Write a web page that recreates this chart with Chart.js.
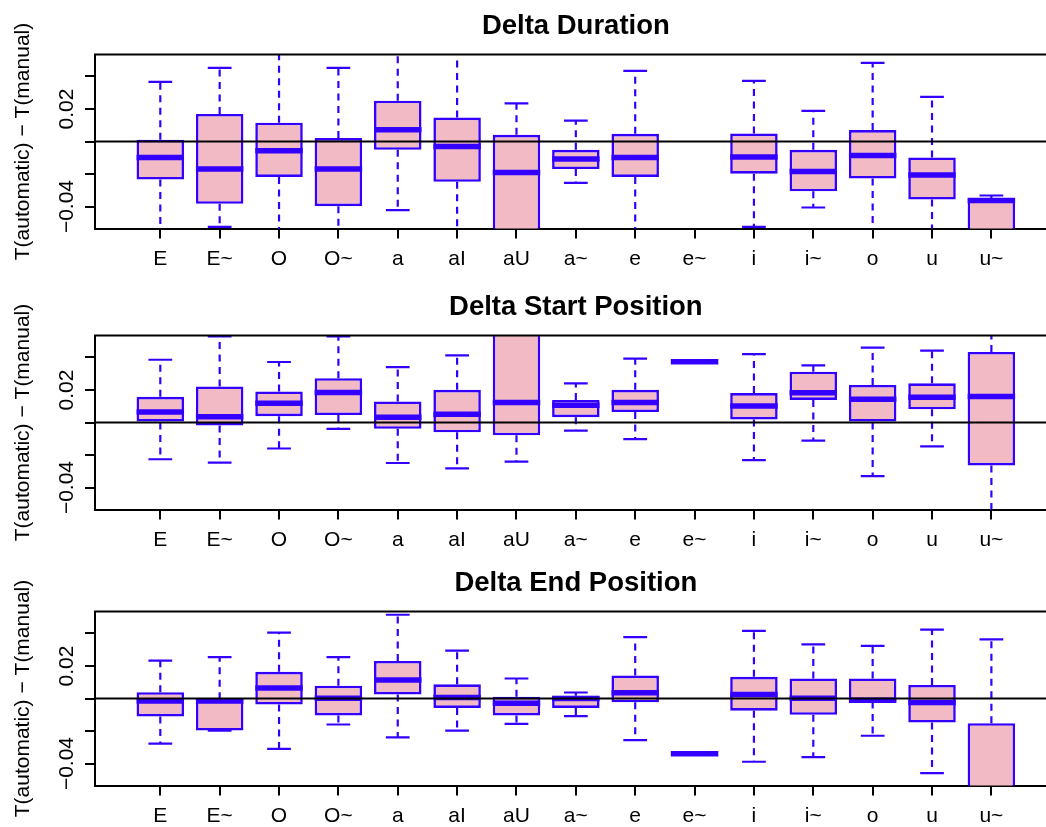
<!DOCTYPE html>
<html lang="en">
<head>
    <meta charset="UTF-8">
    <title>Delta boxplots</title>
    <style>
        body {
            margin: 0;
            background-color: #fff;
            overflow: hidden;
        }
        .panel {
            position: absolute;
            left: 0;
        }
    </style>
</head>
<body>
    <canvas id="durChart" class="panel" width="1046" height="276" style="top: 0px;"></canvas>
    <canvas id="startChart" class="panel" width="1046" height="276" style="top: 281px;"></canvas>
    <canvas id="endChart" class="panel" width="1046" height="276" style="top: 557px;"></canvas>

    <script src="https://cdn.jsdelivr.net/npm/chart.js"></script>
    <script>
        // Categories (vowels) along the x axis
        const categories = ['E', 'E~', 'O', 'O~', 'a', 'aI', 'aU', 'a~', 'e', 'e~', 'i', 'i~', 'o', 'u', 'u~'];

        // Y tick marks, and the ones that get a label
        const yTicks = [-0.04, -0.02, 0, 0.02, 0.04];
        const yLabelTicks = [0.02, -0.04];

        // Delta Duration (whisker low, Q1, median, Q3, whisker high)
        const durLow  = [-0.058, -0.0525, -0.058, -0.058, -0.0422, -0.058, -0.065, -0.0254, -0.058, null, -0.0525, -0.0406, -0.058, -0.058, -0.065];
        const durQ1   = [-0.0234, -0.0383, -0.0218, -0.0398, -0.0051, -0.0248, -0.058, -0.0169, -0.0218, null, -0.0198, -0.0306, -0.0228, -0.0357, -0.058];
        const durMed  = [-0.0098, -0.0169, -0.0057, -0.0169, 0.0072, -0.0031, -0.019, -0.0108, -0.0098, null, -0.0095, -0.0185, -0.0086, -0.0206, -0.0363];
        const durQ3   = [0.001, 0.0169, 0.0116, 0.0021, 0.0251, 0.0147, 0.0041, -0.0051, 0.0047, null, 0.0049, -0.0051, 0.007, -0.0098, -0.0349];
        const durHigh = [0.0367, 0.0453, 0.058, 0.0453, 0.058, 0.058, 0.0235, 0.0128, 0.0434, null, 0.0373, 0.0188, 0.0483, 0.0275, -0.0332];

        // Delta Start Position
        const startLow  = [-0.0226, -0.0247, -0.016, -0.0039, -0.0249, -0.0282, -0.0241, -0.005, -0.0102, 0.0374, -0.0231, -0.0112, -0.033, -0.0147, -0.058];
        const startQ1   = [0.0, -0.0019, 0.0039, 0.0046, -0.0039, -0.006, -0.0079, 0.0033, 0.0064, 0.0374, 0.0019, 0.0139, 0.0, 0.0081, -0.0264];
        const startMed  = [0.0064, 0.0035, 0.0118, 0.0185, 0.0033, 0.005, 0.0123, 0.0106, 0.0123, 0.0374, 0.0102, 0.0183, 0.0143, 0.0156, 0.016];
        const startQ3   = [0.0158, 0.0222, 0.0191, 0.0272, 0.0129, 0.0201, 0.058, 0.0139, 0.0201, 0.0374, 0.0181, 0.0312, 0.0231, 0.0241, 0.0434];
        const startHigh = [0.0386, 0.053, 0.0372, 0.053, 0.0341, 0.0413, 0.065, 0.0241, 0.0393, 0.0374, 0.042, 0.0351, 0.0461, 0.0442, 0.058];

        // Delta End Position
        const endLow  = [-0.0278, -0.0197, -0.031, -0.016, -0.0239, -0.0197, -0.0156, -0.0108, -0.0256, -0.0339, -0.0389, -0.036, -0.0229, -0.0459, -0.07];
        const endQ1   = [-0.011, -0.0197, -0.0037, -0.0104, 0.0025, -0.0058, -0.0104, -0.0058, -0.0023, -0.0339, -0.0075, -0.01, -0.0019, -0.0148, -0.065];
        const endMed  = [-0.0015, -0.0015, 0.0064, 0.0002, 0.0114, 0.0006, -0.0029, 0.0, 0.0035, -0.0339, 0.0025, 0.0002, -0.001, -0.0025, -0.06];
        const endQ3   = [0.0039, -0.0004, 0.0164, 0.0079, 0.0231, 0.0087, 0.001, 0.0017, 0.0141, -0.0339, 0.0133, 0.0123, 0.0123, 0.0083, -0.0152];
        const endHigh = [0.0233, 0.0254, 0.0405, 0.0254, 0.0515, 0.0295, 0.0123, 0.0037, 0.0378, -0.0339, 0.0416, 0.0333, 0.0324, 0.0424, 0.0364];

        const BLUE = '#3300ff';
        const PINK = '#f2bac4';
        const FONT = "'Liberation Sans', Arial, sans-serif";
        const BOX_W = 0.8;   // box width in x units
        const CAP_W = 0.4;   // staple width in x units
        const X_MIN = -0.1, X_MAX = 15.92, Y_LIM = 0.0535;

        Chart.defaults.font.family = FONT;
        Chart.defaults.color = '#000';

        // half of a width given in x units, in pixels
        function halfPx(chart, units) {
            const s = chart.scales.x;
            return Math.abs(s.getPixelForValue(1 + units / 2) - s.getPixelForValue(1));
        }

        function fmt(v) {
            return (v < 0 ? '\u2212' : '') + Math.abs(v).toFixed(2);
        }

        // Titles, rotated y labels, top frame line
        const decor = {
            id: 'decor',
            afterDraw(chart, args, opts) {
                const { ctx, chartArea: a, scales: { x, y } } = chart;
                ctx.save();
                ctx.fillStyle = '#000';
                ctx.strokeStyle = '#000';
                ctx.lineWidth = 2;
                ctx.beginPath();
                ctx.moveTo(a.left - 1, a.top);
                ctx.lineTo(a.right, a.top);
                ctx.stroke();

                ctx.textAlign = 'center';
                ctx.textBaseline = 'alphabetic';
                ctx.font = 'bold 27.5px ' + FONT;
                ctx.fillText(opts.title, x.getPixelForValue(8), a.top - 21);

                ctx.font = '21px ' + FONT;
                yLabelTicks.forEach(v => {
                    ctx.save();
                    ctx.translate(a.left - 22, y.getPixelForValue(v));
                    ctx.rotate(-Math.PI / 2);
                    ctx.fillText(fmt(v), 0, 0);
                    ctx.restore();
                });

                ctx.save();
                ctx.translate(29, (a.top + a.bottom) / 2);
                ctx.rotate(-Math.PI / 2);
                ctx.fillText('T(automatic) \u2212 T(manual)', 0, 0);
                ctx.restore();
                ctx.restore();
            }
        };

        function makeChart(id, title, lo, q1, med, q3, hi) {
            const idx = categories.map((_, i) => i + 1);
            const whiskers = idx.flatMap((x, i) => q1[i] === null ? [] : [
                { x, y: q3[i] }, { x, y: hi[i] }, { x, y: null },
                { x, y: q1[i] }, { x, y: lo[i] }, { x, y: null }
            ]);
            const caps = idx.flatMap((x, i) => q1[i] === null ? [] : [{ x, y: lo[i] }, { x, y: hi[i] }]);

            return new Chart(document.getElementById(id), {
                type: 'bar',
                data: {
                    datasets: [
                        {
                            type: 'line',
                            data: [{ x: X_MIN, y: 0 }, { x: X_MAX, y: 0 }],
                            borderColor: '#000',
                            borderWidth: 2,
                            pointRadius: 0,
                            clip: 0,
                            order: 0
                        },
                        {
                            type: 'line',
                            data: idx.map((x, i) => ({ x, y: med[i] })),
                            showLine: false,
                            pointStyle: 'line',
                            pointRadius: c => halfPx(c.chart, BOX_W),
                            pointBorderWidth: 5.5,
                            pointBorderColor: BLUE,
                            pointBackgroundColor: BLUE,
                            clip: 0,
                            order: 1
                        },
                        {
                            type: 'line',
                            data: caps,
                            showLine: false,
                            pointStyle: 'line',
                            pointRadius: c => halfPx(c.chart, CAP_W),
                            pointBorderWidth: 2.2,
                            pointBorderColor: BLUE,
                            pointBackgroundColor: BLUE,
                            clip: 0,
                            order: 2
                        },
                        {
                            type: 'line',
                            data: whiskers,
                            borderColor: BLUE,
                            borderWidth: 2.2,
                            borderDash: [7, 5.5],
                            pointRadius: 0,
                            spanGaps: false,
                            clip: 0,
                            order: 3
                        },
                        {
                            type: 'bar',
                            data: idx.map((x, i) => ({ x, y: q1[i] === null ? null : [q1[i], q3[i]] })),
                            backgroundColor: PINK,
                            borderColor: BLUE,
                            borderWidth: 2.6,
                            borderSkipped: false,
                            barPercentage: BOX_W,
                            categoryPercentage: 1,
                            clip: 0,
                            order: 4
                        }
                    ]
                },
                options: {
                    responsive: false,
                    animation: false,
                    events: [],
                    layout: { padding: { top: 54.5, left: 85, right: 0, bottom: 2.5 } },
                    plugins: {
                        legend: { display: false },
                        tooltip: { enabled: false },
                        decor: { title: title }
                    },
                    scales: {
                        x: {
                            type: 'linear',
                            min: X_MIN,
                            max: X_MAX,
                            offset: false,
                            afterBuildTicks: axis => { axis.ticks = idx.map(v => ({ value: v })); },
                            afterFit: axis => { axis.height = 45; },
                            grid: { display: true, offset: false, drawOnChartArea: false, drawTicks: true, tickLength: 10, color: '#000', lineWidth: 2 },
                            border: { display: true, color: '#000', width: 2 },
                            ticks: {
                                autoSkip: false,
                                maxRotation: 0,
                                minRotation: 0,
                                padding: 8,
                                font: { size: 21 },
                                callback: v => categories[v - 1]
                            }
                        },
                        y: {
                            type: 'linear',
                            min: -Y_LIM,
                            max: Y_LIM,
                            afterBuildTicks: axis => { axis.ticks = yTicks.map(v => ({ value: v })); },
                            afterFit: axis => { axis.width = 10; },
                            grid: { display: true, drawOnChartArea: false, drawTicks: true, tickLength: 10, color: '#000', lineWidth: 2 },
                            border: { display: true, color: '#000', width: 2 },
                            ticks: { padding: 0, callback: () => '' }
                        }
                    }
                },
                plugins: [decor]
            });
        }

        makeChart('durChart', 'Delta Duration', durLow, durQ1, durMed, durQ3, durHigh);
        makeChart('startChart', 'Delta Start Position', startLow, startQ1, startMed, startQ3, startHigh);
        makeChart('endChart', 'Delta End Position', endLow, endQ1, endMed, endQ3, endHigh);
    </script>
</body>
</html>
